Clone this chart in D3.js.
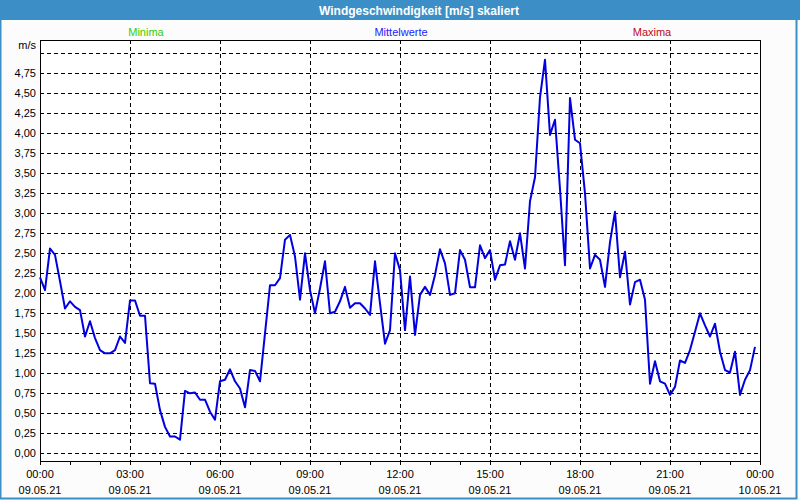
<!DOCTYPE html>
<html><head><meta charset="utf-8">
<script src="https://cdn.jsdelivr.net/npm/d3@7"></script>
<style>body{margin:0;background:#fff}svg{display:block}</style>
</head><body>
<svg id="c" width="800" height="500"></svg>
<script>
const title = "Windgeschwindigkeit [m/s] skaliert";
const legendLabels = ["Minima", "Mittelwerte", "Maxima"];
const legendColors = ["#33cc00", "#2222ff", "#c00818"];
const unitLabel = "m/s";
// 10-minute means, 09.05.21 00:00 .. 23:50
const values = [
 2.20,2.04,2.56,2.48,2.15,1.81,1.90,1.83,1.79,1.46,1.65,1.44,1.29,1.25,1.25,1.29,1.46,1.38,1.91,1.91,
 1.72,1.72,0.875,0.87,0.54,0.33,0.21,0.21,0.17,0.78,0.75,0.76,0.67,0.67,0.52,0.42,0.90,0.92,1.05,0.90,
 0.81,0.575,1.04,1.03,0.90,1.50,2.10,2.10,2.19,2.67,2.73,2.46,1.92,2.50,2.04,1.75,2.06,2.40,1.75,1.77,
 1.90,2.08,1.82,1.875,1.875,1.81,1.73,2.40,1.875,1.37,1.54,2.50,2.29,1.54,2.21,1.48,1.98,2.08,1.98,2.23,
 2.55,2.375,1.98,2.00,2.54,2.42,2.075,2.075,2.60,2.44,2.54,2.17,2.35,2.36,2.65,2.42,2.75,2.31,3.15,3.45,
 4.45,4.92,3.98,4.17,3.30,2.35,4.44,3.92,3.875,3.25,2.31,2.48,2.42,2.08,2.64,3.02,2.20,2.52,1.86,2.14,
 2.17,1.92,0.87,1.15,0.90,0.87,0.73,0.83,1.16,1.13,1.29,1.52,1.75,1.60,1.46,1.62,1.27,1.04,1.01,1.27,
 0.73,0.92,1.04,1.33
];
const startTime = new Date(2021, 4, 9, 0, 0);
const endTime = new Date(2021, 4, 10, 0, 0);
const stepMinutes = 10;
const yTicks = [0,0.25,0.5,0.75,1,1.25,1.5,1.75,2,2.25,2.5,2.75,3,3.25,3.5,3.75,4,4.25,4.5,4.75];
const yGrid = [0,0.25,0.5,0.75,1,1.25,1.5,1.75,2,2.25,2.5,2.75,3,3.25,3.5,3.75,4,4.25,4.5,4.75,5];
const xTimeLabels = ["00:00","03:00","06:00","09:00","12:00","15:00","18:00","21:00","00:00"];
const xDateLabels = ["09.05.21","09.05.21","09.05.21","09.05.21","09.05.21","09.05.21","09.05.21","09.05.21","10.05.21"];

const svg = d3.select("#c");
const font = "'Liberation Sans', Arial, sans-serif";
const L = 40, R = 760, T = 40, B = 461;

svg.append("rect").attr("x",0).attr("y",0).attr("width",800).attr("height",500).attr("fill","#fcfcfc");
svg.append("rect").attr("x",0.5).attr("y",0.5).attr("width",796).attr("height",498)
  .attr("fill","none").attr("stroke","#3b8fc6").attr("stroke-width",2);
svg.append("rect").attr("x",0).attr("y",0).attr("width",800).attr("height",20).attr("fill","#3b8fc6");
svg.append("text").attr("x",419).attr("y",14.5).attr("text-anchor","middle")
  .attr("fill","#fff").attr("font-family",font).attr("font-weight","bold").attr("font-size","12px").text(title);

const legendX = [146, 401, 652];
legendLabels.forEach((t,i)=>{
  svg.append("text").attr("x",legendX[i]).attr("y",36).attr("text-anchor","middle")
    .attr("fill",legendColors[i]).attr("font-family",font).attr("font-size","11px").text(t);
});

const x = d3.scaleTime().domain([startTime,endTime]).range([L,R]);
const y = d3.scaleLinear().domain([0,5]).range([453.3,53.3]);

svg.append("rect").attr("x",L).attr("y",T).attr("width",R-L).attr("height",B-T).attr("fill","#fff");

// grid
const g = svg.append("g").attr("shape-rendering","crispEdges");
g.selectAll("line.h").data(yGrid).join("line").attr("class","h")
  .attr("x1",L).attr("x2",R).attr("y1",d=>Math.round(y(d))+0.5).attr("y2",d=>Math.round(y(d))+0.5)
  .attr("stroke","#000").attr("stroke-dasharray","4,3");
const vTicks = x.ticks(d3.timeHour.every(3));
g.selectAll("line.v").data(vTicks.slice(1,-1)).join("line").attr("class","v")
  .attr("x1",d=>Math.round(x(d))+0.5).attr("x2",d=>Math.round(x(d))+0.5).attr("y1",T).attr("y2",B)
  .attr("stroke","#000").attr("stroke-dasharray","4,3");

// x axis ticks (hourly)
const xAxis = d3.axisBottom(x).ticks(d3.timeHour.every(1)).tickSize(4).tickFormat("");
const ax = svg.append("g").attr("transform",`translate(0,${B})`).call(xAxis);
ax.select(".domain").remove();
ax.selectAll("line").attr("stroke","#000");

// labels
const yfmt = d => d.toFixed(2).replace(".", ",");
svg.selectAll("text.yl").data(yTicks).join("text").attr("class","yl")
  .attr("x",36).attr("y",d=>y(d)+4).attr("text-anchor","end")
  .attr("font-family",font).attr("font-size","11px").attr("fill","#000").text(yfmt);
svg.append("text").attr("x",36).attr("y",49).attr("text-anchor","end")
  .attr("font-family",font).attr("font-size","11px").text(unitLabel);

vTicks.forEach((d,i)=>{
  svg.append("text").attr("x",x(d)).attr("y",478).attr("text-anchor","middle")
    .attr("font-family",font).attr("font-size","11px").text(xTimeLabels[i]);
  svg.append("text").attr("x",x(d)).attr("y",494).attr("text-anchor","middle")
    .attr("font-family",font).attr("font-size","11px").text(xDateLabels[i]);
});

// frame
svg.append("rect").attr("x",L+0.5).attr("y",T+0.5).attr("width",R-L).attr("height",B-T)
  .attr("fill","none").attr("stroke","#000").attr("shape-rendering","crispEdges");

// data line
const data = values.map((v,i)=>({t:new Date(startTime.getTime()+i*stepMinutes*60000), v}));
svg.append("path").datum(data)
  .attr("d", d3.line().x(d=>x(d.t)).y(d=>y(d.v)))
  .attr("fill","none").attr("stroke","#0000e0").attr("stroke-width",2).attr("stroke-linejoin","round");
</script>
</body></html>
